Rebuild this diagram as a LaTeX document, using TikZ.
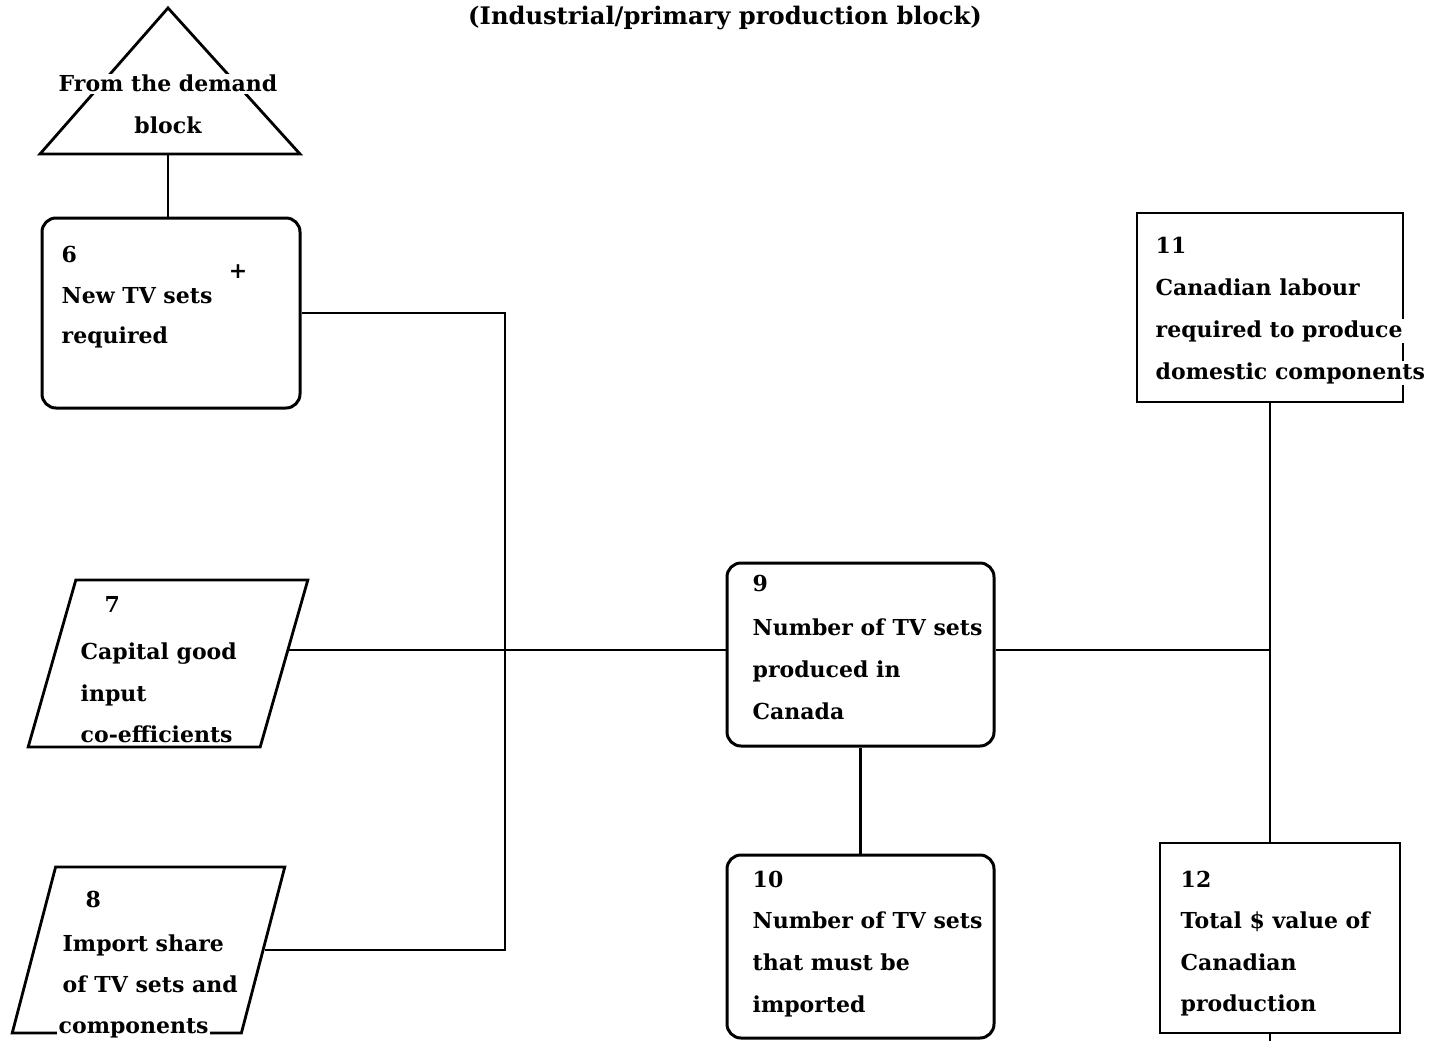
\documentclass[tikz,border=0pt]{standalone}
\usepackage{fontspec}
\setmainfont{DejaVu Serif}
\usetikzlibrary{shapes.geometric,calc}
\begin{document}
\begin{tikzpicture}[x=1pt,y=-1pt,
  ln/.style={line width=2.8pt},
  rbox/.style={draw, line width=3pt, rounded corners=14pt, inner sep=0pt},
  sbox/.style={draw, line width=2.8pt, inner sep=0pt},
  para/.style={draw, line width=2.8pt, inner sep=1pt, trapezium, trapezium stretches=true},
  txt/.style={anchor=base west, inner sep=1.5pt, fill=white, font=\fontsize{22}{26}\selectfont\bfseries},
  ctxt/.style={txt, anchor=base}]
\useasboundingbox (0,0) rectangle (1447,1041);
\fill[white] (0,0) rectangle (1447,1041);

% title
\node[ctxt, font=\fontsize{24.2}{28}\selectfont\bfseries] (title) at (725,25) {(Industrial/primary production block)};

% triangle: from the demand block
\draw[line width=2.8pt, line join=miter] (168,8) -- (40,154) -- (300,154) -- cycle;
\coordinate (tri) at (168,154);
\node[ctxt] (dem1) at (168,92) {From the demand};
\node[ctxt] (dem2) at (168,133) {block};

% boxes
\node[rbox, minimum width=258pt, minimum height=190pt] (b6) at (171,313) {};
\node[rbox, minimum width=267pt, minimum height=183pt] (b9) at (860.5,654.5) {};
\node[rbox, minimum width=267pt, minimum height=183pt] (b10) at (860.5,946.5) {};
\node[sbox, minimum width=266pt, minimum height=189pt] (b11) at (1270,307.5) {};
\node[sbox, minimum width=240pt, minimum height=190pt] (b12) at (1280,938) {};
\node[para, minimum width=280pt, minimum height=167pt,
      trapezium left angle=71.2, trapezium right angle=108.8] (p7) at (168,663.5) {\phantom{M}};
\node[para, minimum width=273pt, minimum height=166pt,
      trapezium left angle=72.9, trapezium right angle=107.1] (p8) at (148.5,950) {\phantom{M}};

\coordinate (bus) at (505,0);
\coordinate (tail) at (1270,1041);
\coordinate (p7r) at ($(p7.top right corner)!0.42!(p7.bottom right corner)$);
\coordinate (j) at (b11.south |- p7r);

% connectors
\draw[ln] (tri) -- (tri |- b6.north);
\draw[ln] (b6.east) -| (bus |- p8.east) -- (p8.east);
\draw[ln] (p7r) -- (p7r -| b9.west);
\draw[ln] (b9.south) -- (b10.north);
\draw[ln] (p7r -| b9.east) -- (j);
\draw[ln] (b11.south) -- (b11.south |- b12.north);
\draw[ln] (b11.south |- b12.south) -- (tail);

% texts
\node[txt] (t6a) at (60,262) {6};
\node[ctxt] (plus) at (238,278) {+};
\node[txt] (t6b) at (60,303) {New TV sets};
\node[txt] (t6c) at (60,343) {required};

\node[txt] (t7a) at (103,612) {7};
\node[txt] (t7b) at (79,659) {Capital good};
\node[txt] (t7c) at (79,701) {input};
\node[txt] (t7d) at (79,742) {co-efficients};

\node[txt] (t8a) at (84,907) {8};
\node[txt] (t8b) at (61,951) {Import share};
\node[txt] (t8c) at (61,992) {of TV sets and};
\node[txt] (t8d) at (57,1033) {components};

\node[txt] (t9a) at (751,591) {9};
\node[txt] (t9b) at (751,635) {Number of TV sets};
\node[txt] (t9c) at (751,677) {produced in};
\node[txt] (t9d) at (751,719) {Canada};

\node[txt] (t10a) at (751,887) {10};
\node[txt] (t10b) at (751,928) {Number of TV sets};
\node[txt] (t10c) at (751,970) {that must be};
\node[txt] (t10d) at (751,1012) {imported};

\node[txt] (t11a) at (1154,253) {11};
\node[txt] (t11b) at (1154,295) {Canadian labour};
\node[txt] (t11c) at (1154,337) {required to produce};
\node[txt] (t11d) at (1154,379) {domestic components};

\node[txt] (t12a) at (1179,887) {12};
\node[txt] (t12b) at (1179,928) {Total \$ value of};
\node[txt] (t12c) at (1179,970) {Canadian};
\node[txt] (t12d) at (1179,1011) {production};
\end{tikzpicture}
\end{document}
